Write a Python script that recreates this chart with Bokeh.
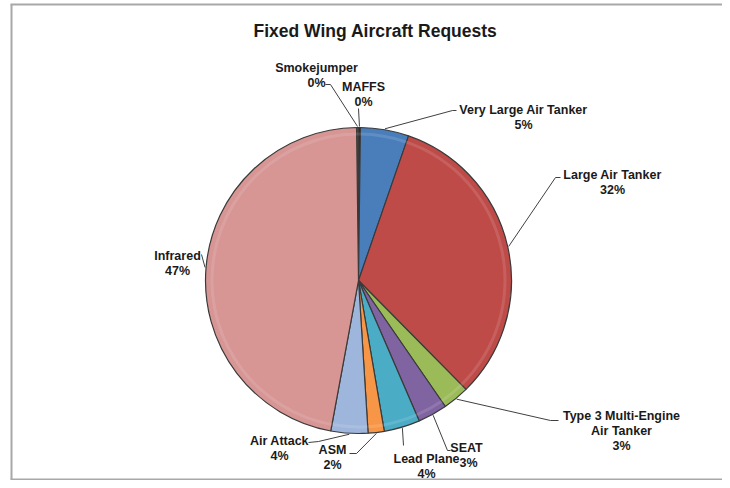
import numpy as np
from bokeh.plotting import figure
from bokeh.models import Range1d
from bokeh.core.properties import value
from bokeh.embed import file_html
from bokeh.resources import INLINE

# ---- data ----
categories = ["Smokejumper", "MAFFS", "Very Large Air Tanker", "Large Air Tanker",
              "Type 3 Multi-Engine Air Tanker", "SEAT", "Lead Plane", "ASM",
              "Air Attack", "Infrared"]
values = [0.2, 0.2, 5.1, 32.3, 2.8, 3.1, 3.8, 1.7, 3.9, 46.9]
label_lines = [["Smokejumper"], ["MAFFS"], ["Very Large Air Tanker"], ["Large Air Tanker"],
               ["Type 3 Multi-Engine", "Air Tanker"], ["SEAT"], ["Lead Plane"], ["ASM"],
               ["Air Attack"], ["Infrared"]]
colors = ["#4F6228", "#262626", "#4A7EBB", "#BE4B48", "#9BBB59", "#8064A2",
          "#4BACC6", "#F79646", "#9FB6DC", "#D79594"]
title = "Fixed Wing Aircraft Requests"

# ---- layout (screen coords, y measured downward; data y = -screen y) ----
W, H = 722, 480
cx, cy, R = 358, 280, 153
rotation = -values[0] / 100.0  # smokejumper straddles 12 o'clock

FONT = value("Liberation Sans")

p = figure(width=W, height=H, output_backend="svg", toolbar_location=None,
           x_range=Range1d(0, W), y_range=Range1d(-H, 0),
           min_border=0, outline_line_color=None)
p.axis.visible = False
p.grid.visible = False
p.background_fill_color = "white"
p.border_fill_color = "white"

# frame border lines (top, left, bottom)
p.segment(x0=[10, 11, 10], y0=[-4, -4, -479], x1=[722, 11, 722], y1=[-4, -479, -479],
          line_color="#A8A8A8", line_width=2)

# pie wedges, clockwise from top
fr = np.array(values) / sum(values)
cum = np.concatenate([[0], np.cumsum(fr)]) + rotation
start = np.pi / 2 - cum[:-1] * 2 * np.pi
end = np.pi / 2 - cum[1:] * 2 * np.pi
mid = (start + end) / 2

p.wedge(x=cx, y=-cy, radius=R, start_angle=start, end_angle=end, direction="clock",
        fill_color=colors, line_color="#3A3A3A", line_width=1.2)
# subtle bevel highlight along rim
p.annular_wedge(x=cx, y=-cy, inner_radius=R - 8, outer_radius=R - 5,
                start_angle=start, end_angle=end, direction="clock",
                fill_color="white", fill_alpha=0.12, line_color=None)

# leader lines: anchor on rim at slice mid-angle, then elbow points (layout)
elbows = [
    [(330, 84), (325, 84)],
    [(358, 108)],
    [(452, 110), (456, 110)],
    [(555, 177), (560, 177)],
    [(550, 420), (558, 420)],
    [(447, 450), (450, 450)],
    [(403, 445)],
    [(356, 453), (349, 453)],
    [(318, 441), (308, 442)],
    [(201, 254)],
]
label_pos = [(316, 67), (363, 86), (523, 109), (612, 174), (621, 415),
             (466, 447), (426, 458), (332, 449), (279, 440), (177, 255)]
pct_dx = [0, 0, 0, 0, 0, 2, 0, 0, 0, 0]

xs, ys = [], []
for i in range(len(values)):
    ax = cx + (R + 1) * np.cos(mid[i])
    ay = cy - (R + 1) * np.sin(mid[i])
    pts = [(ax, ay)] + elbows[i]
    xs.append([q[0] for q in pts])
    ys.append([-q[1] for q in pts])
p.multi_line(xs=xs, ys=ys, line_color="#404040", line_width=1)

# labels
tx, ty, tt = [], [], []
for i, v in enumerate(values):
    lx, ly = label_pos[i]
    lines = label_lines[i] + [f"{round(v):.0f}%"]
    for k, s in enumerate(lines):
        tx.append(lx + (pct_dx[i] if k == len(lines) - 1 else 0))
        ty.append(-(ly + 15 * k))
        tt.append(s)
p.text(x=tx, y=ty, text=tt, text_font=FONT, text_font_style="bold",
       text_font_size="12.5px", text_color="#1A1A1A", text_align="center",
       text_baseline="middle")

# title
p.text(x=[375], y=[-30], text=[title], text_font=FONT, text_font_style="bold",
       text_font_size="17.5px", text_color="#1A1A1A", text_align="center",
       text_baseline="middle")

open("out.html", "w").write(file_html(p, INLINE))
